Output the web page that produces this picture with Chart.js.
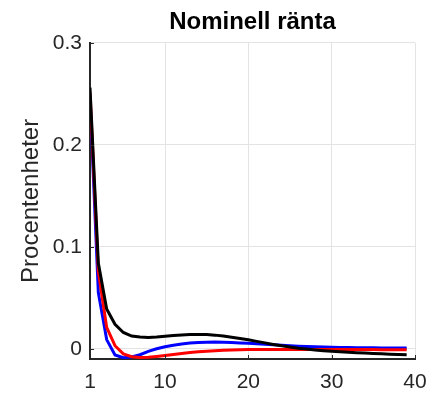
<!DOCTYPE html>
<html>
<head>
<meta charset="utf-8">
<script src="https://cdn.jsdelivr.net/npm/chart.js@4.4.1/dist/chart.umd.min.js"></script>
<style>
  html, body { margin: 0; padding: 0; background: #fff; }
</style>
</head>
<body>
<canvas id="rateChart" width="428" height="393"></canvas>
<script>
// kvartal efter chocken
var periods = [1, 2, 3, 4, 5, 6, 7, 8, 9, 10, 11, 12, 13, 14, 15, 16, 17, 18, 19, 20,
               21, 22, 23, 24, 25, 26, 27, 28, 29, 30, 31, 32, 33, 34, 35, 36, 37, 38, 39];

var blackSeries = [0.256, 0.084, 0.039, 0.024, 0.016, 0.0125, 0.0115, 0.0112, 0.0115, 0.0122,
                   0.013, 0.0136, 0.014, 0.0141, 0.014, 0.0134, 0.0125, 0.0114, 0.0101, 0.0088,
                   0.0073, 0.0058, 0.0043, 0.0029, 0.0017, 0.0006, -0.0003, -0.0011, -0.0018, -0.0024,
                   -0.0029, -0.0034, -0.0038, -0.0042, -0.0046, -0.0049, -0.0053, -0.0056, -0.0059];

var redSeries = [0.251, 0.076, 0.021, 0.003, -0.005, -0.0078, -0.0086, -0.0083, -0.0075, -0.0066,
                 -0.0056, -0.0046, -0.0037, -0.003, -0.0024, -0.0019, -0.0015, -0.0012, -0.001, -0.0008,
                 -0.0007, -0.0006, -0.0006, -0.0006, -0.0006, -0.0006, -0.0006, -0.0007, -0.0007, -0.0007,
                 -0.0007, -0.0008, -0.0008, -0.0008, -0.0008, -0.0009, -0.0009, -0.0009, -0.0009];

var blueSeries = [0.246, 0.055, 0.009, -0.006, -0.0088, -0.008, -0.0058, -0.0025, 0.0, 0.002,
                  0.0035, 0.0048, 0.0057, 0.0062, 0.0065, 0.0066, 0.0065, 0.0062, 0.0058, 0.0054,
                  0.0049, 0.0044, 0.0039, 0.0034, 0.003, 0.0026, 0.0022, 0.0019, 0.0017, 0.0015,
                  0.0013, 0.0012, 0.0011, 0.001, 0.001, 0.0009, 0.0009, 0.0008, 0.0008];

var xTicks = [1, 10, 20, 30, 40];
var yTicks = [0, 0.1, 0.2, 0.3];

function toPoints(values) {
    return values.map(function (v, i) { return { x: periods[i], y: v }; });
}

var axisColor = '#262626';
var gridColor = '#e3e3e3';
var fontFamily = '"Liberation Sans", Arial, Helvetica, sans-serif';

// MATLAB-style ticks pointing into the plot
const inwardTicks = {
    id: 'inwardTicks',
    afterDatasetsDraw(chart) {
        const { ctx, chartArea, scales } = chart;
        ctx.save();
        ctx.strokeStyle = axisColor;
        ctx.lineWidth = 1;
        ctx.beginPath();
        for (const v of xTicks) {
            const px = Math.round(scales.x.getPixelForValue(v)) + 0.5;
            ctx.moveTo(px, chartArea.bottom);
            ctx.lineTo(px, chartArea.bottom - 4);
        }
        for (const v of yTicks) {
            const py = Math.round(scales.y.getPixelForValue(v)) + 0.5;
            ctx.moveTo(chartArea.left, py);
            ctx.lineTo(chartArea.left + 4, py);
        }
        ctx.stroke();
        ctx.restore();
    }
};

const rateData = {
    datasets: [
        {
            label: 'Svart',
            data: toPoints(blackSeries),
            borderColor: '#000000',
            backgroundColor: '#000000',
        },
        {
            label: 'Röd',
            data: toPoints(redSeries),
            borderColor: '#ff0000',
            backgroundColor: '#ff0000',
        },
        {
            label: 'Blå',
            data: toPoints(blueSeries),
            borderColor: '#0000ff',
            backgroundColor: '#0000ff',
        }
    ]
};

const rateConfig = {
    type: 'line',
    data: rateData,
    plugins: [inwardTicks],
    options: {
        responsive: false,
        animation: false,
        layout: { padding: { left: 0, right: 0, top: 0, bottom: 0 } },
        elements: {
            line: { borderWidth: 3, tension: 0 },
            point: { radius: 0 }
        },
        plugins: {
            legend: { display: false },
            tooltip: { enabled: false },
            title: {
                display: true,
                text: 'Nominell ränta',
                fullSize: false,
                color: '#000000',
                font: { family: fontFamily, size: 24, weight: 'bold' },
                padding: { top: 8, bottom: 6 }
            }
        },
        scales: {
            x: {
                type: 'linear',
                min: 1,
                max: 40,
                afterBuildTicks: function (scale) {
                    scale.ticks = xTicks.map(function (v) { return { value: v }; });
                },
                afterFit: function (scale) {
                    scale.height = 34;
                    scale.paddingLeft = 0;
                    scale.paddingRight = 13;
                },
                grid: { color: gridColor, drawTicks: false },
                border: { color: axisColor, width: 2 },
                ticks: {
                    color: axisColor,
                    padding: 11,
                    maxRotation: 0,
                    font: { family: fontFamily, size: 21 }
                }
            },
            y: {
                min: -0.01,
                max: 0.3,
                afterBuildTicks: function (scale) {
                    scale.ticks = yTicks.map(function (v) { return { value: v }; });
                },
                afterFit: function (scale) { scale.width = 90; },
                grid: { color: gridColor, drawTicks: false },
                border: { color: axisColor, width: 2 },
                title: {
                    display: true,
                    text: 'Procentenheter',
                    color: axisColor,
                    font: { family: fontFamily, size: 24 },
                    padding: { top: 17, bottom: 0 }
                },
                ticks: {
                    color: axisColor,
                    padding: 8,
                    font: { family: fontFamily, size: 21 },
                    callback: function (v) { return String(Math.round(v * 10) / 10); }
                }
            }
        }
    }
};

const rateChart = new Chart(document.getElementById('rateChart'), rateConfig);
</script>
</body>
</html>
